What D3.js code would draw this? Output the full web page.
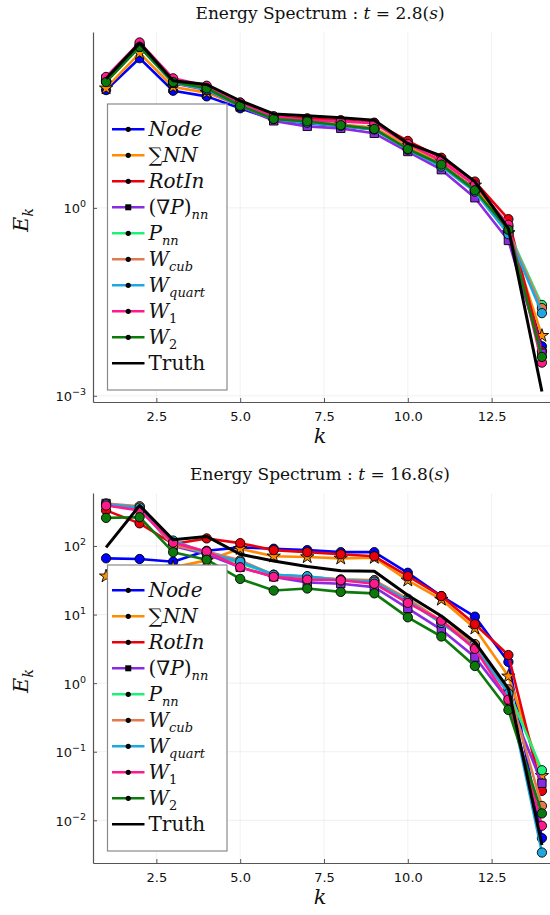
<!DOCTYPE html>
<html><head><meta charset="utf-8">
<script src="https://cdn.jsdelivr.net/npm/d3@7/dist/d3.min.js"></script>
<style>body{margin:0;background:#fff}</style>
</head><body>
<svg id="c" width="550" height="915"></svg>
<script>
// ---------- data ----------
const kValues = [1,2,3,4,5,6,7,8,9,10,11,12,13,14];
const seriesNames = ["Node","SumNN","RotIn","GradPnn","Pnn","Wcub","Wquart","W1","W2","Truth"];
const seriesColors = ["#0000ff","#ff8c00","#e8000b","#8a2be2","#1ef07a","#e07b50","#1fa8df","#ff1a8c","#0b7a0b","#000000"];
const xTicks = [2.5,5.0,7.5,10.0,12.5];
const yTicksT28 = [1e-3,1e0];
const yTicksT168 = [1e-2,1e-1,1e0,1e1,1e2];

// t = 2.8 s
const t28_Node   = [75.9,245,74.1,60.3,38.9,25.7,22.4,20.4,17.8,8.91,5.01,2.00,0.501,6.17e-3];
const t28_SumNN  = [81.3,295,85.1,69.2,42.7,26.3,23.4,21.4,19.1,9.77,5.50,2.29,0.398,9.12e-3];
const t28_RotIn  = [107,398,107,85.1,47.9,28.8,26.9,25.1,22.9,11.7,6.31,2.63,0.661,5.13e-3];
const t28_GradP  = [115,380,97.7,75.9,41.7,24.5,20.0,18.6,15.5,7.94,4.07,1.45,0.302,4.79e-3];
const t28_Pnn    = [105,372,100,79.4,42.7,26.3,23.4,20.9,18.2,8.71,4.79,1.91,0.417,2.82e-2];
const t28_Wcub   = [107,380,102,79.4,43.7,26.9,24.0,21.4,18.6,8.91,5.01,1.95,0.398,2.51e-2];
const t28_Wquart = [105,372,100,77.6,42.7,26.3,22.9,20.4,17.8,8.51,4.57,1.82,0.380,2.09e-2];
const t28_W1     = [123,437,117,89.1,47.9,28.8,25.1,24.0,22.4,10.5,5.62,2.34,0.537,3.39e-3];
const t28_W2     = [102,372,102,81.3,42.7,26.3,24.0,20.9,18.2,8.71,4.90,1.91,0.447,4.17e-3];
const t28_Truth  = [115,427,107,93.3,51.3,31.6,29.5,27.5,25.1,10.7,6.76,2.63,0.468,1.17e-3];

// t = 16.8 s
const t168_Node   = [66.1,64.6,58.9,85.1,95.5,91.2,87.1,81.3,81.3,40.7,18.6,9.33,2.04,5.50e-3];
const t168_SumNN  = [36.3,35.5,49.0,61.7,91.2,70.8,69.2,66.1,67.6,31.6,16.6,6.31,1.26,4.47e-2];
const t168_RotIn  = [331,214,107,129,110,87.1,81.3,75.9,70.8,36.3,18.6,7.24,2.57,2.69e-2];
const t168_GradP  = [417,355,100,75.9,49.0,35.5,29.5,28.2,25.1,12.3,6.03,2.40,0.562,3.47e-2];
const t168_Pnn    = [398,363,105,79.4,56.2,38.0,35.5,32.4,31.6,15.8,7.59,3.55,0.759,5.37e-2];
const t168_Wcub   = [417,380,102,83.2,61.7,38.0,35.5,32.4,31.6,17.0,8.13,3.72,0.813,1.62e-2];
const t168_Wquart = [407,363,120,79.4,58.9,38.0,36.3,31.6,30.2,15.8,7.59,3.31,0.708,3.39e-3];
const t168_W1     = [389,331,112,83.2,49.0,35.5,32.4,31.6,28.2,14.8,8.13,3.16,0.575,8.32e-3];
const t168_W2     = [257,263,81.3,63.1,33.1,22.4,24.0,21.4,20.4,9.12,4.79,1.78,0.407,1.26e-2];
const t168_Truth  = [95.5,389,123,138,75.9,60.3,50.1,43.7,42.7,19.1,9.55,3.98,0.832,4.37e-3];

// ---------- drawing ----------
const svg = d3.select("#c");
const SERIF = "'DejaVu Serif', serif";
const SANS = "'DejaVu Sans', sans-serif";

const markerType = ["circle","star","circle","square","circle","circle","circle","circle","circle",null];

const legendLabels = [
  [{t:"Node",i:true}],
  [{t:"\u2211",i:false},{t:"NN",i:true}],
  [{t:"RotIn",i:true}],
  [{t:"(\u2207",i:false},{t:"P",i:true},{t:")",i:false},{t:"nn",i:true,sub:true}],
  [{t:"P",i:true},{t:"nn",i:true,sub:true}],
  [{t:"W",i:true},{t:"cub",i:true,sub:true}],
  [{t:"W",i:true},{t:"quart",i:true,sub:true}],
  [{t:"W",i:true},{t:"1",i:false,sub:true}],
  [{t:"W",i:true},{t:"2",i:false,sub:true}],
  [{t:"Truth",i:false}]
];

function drawPanel(cfg){
  const g = svg.append("g");
  const left = 93, right = 555, top = cfg.top, bottom = cfg.top + 370;
  const x = d3.scaleLinear().domain([1 - 0.03*13, 14 + 0.03*13]).range([left, right]);
  const all = cfg.data.flat().map(v => Math.log10(v));
  const lo = d3.min(all), hi = d3.max(all), span = hi - lo;
  const y = d3.scaleLog().domain([Math.pow(10, lo - 0.03*span), Math.pow(10, hi + 0.03*span)]).range([bottom, top]);

  // grid
  g.append("g").selectAll("line").data(xTicks).join("line")
    .attr("x1", d => x(d)).attr("x2", d => x(d)).attr("y1", top).attr("y2", bottom)
    .attr("stroke", "#000").attr("stroke-opacity", 0.08).attr("stroke-width", 0.8);
  g.append("g").selectAll("line").data(cfg.yTicks).join("line")
    .attr("x1", left).attr("x2", right).attr("y1", d => y(d)).attr("y2", d => y(d))
    .attr("stroke", "#000").attr("stroke-opacity", 0.08).attr("stroke-width", 0.8);

  // axes
  const xAxis = d3.axisBottom(x).tickValues(xTicks).tickFormat(d3.format(".1f")).tickSizeInner(-4).tickSizeOuter(0).tickPadding(10);
  const gx = g.append("g").attr("transform", `translate(0,${bottom})`).call(xAxis);
  gx.select(".domain").attr("stroke", "#555").attr("stroke-width", 1.2);
  gx.selectAll(".tick line").attr("stroke", "#555");
  gx.selectAll("text").attr("font-family", SANS).attr("font-size", 13).attr("fill", "#111");

  const yAxis = d3.axisLeft(y).tickValues(cfg.yTicks).tickFormat("").tickSizeInner(-4).tickSizeOuter(0);
  const gy = g.append("g").attr("transform", `translate(${left},0)`).call(yAxis);
  gy.select(".domain").attr("stroke", "#555").attr("stroke-width", 1.2);
  gy.selectAll(".tick line").attr("stroke", "#555");
  gy.selectAll(".tick").each(function(d){
    const e = Math.round(Math.log10(d));
    const t = d3.select(this).append("text").attr("x", -7).attr("y", 5)
      .attr("text-anchor", "end").attr("font-family", SANS).attr("font-size", 13).attr("fill", "#111");
    t.append("tspan").text("10");
    t.append("tspan").attr("dy", -6).attr("font-size", 9.5).text(e < 0 ? "\u2212" + (-e) : String(e));
  });

  // series
  const line = d3.line().x((d,i) => x(kValues[i])).y(d => y(d));
  cfg.data.forEach((arr, si) => {
    const sg = g.append("g");
    sg.append("path").datum(arr).attr("d", line).attr("fill", "none")
      .attr("stroke", seriesColors[si]).attr("stroke-width", si === 9 ? 3 : 2.6)
      .attr("stroke-linejoin", "round");
    const mt = markerType[si];
    if (mt) {
      const sym = mt === "star" ? d3.symbol(d3.symbolStar, 55) : mt === "square" ? d3.symbol(d3.symbolSquare, 70) : d3.symbol(d3.symbolCircle, 68);
      sg.selectAll("path.m").data(arr).join("path").attr("class", "m")
        .attr("d", sym).attr("transform", (d,i) => `translate(${x(kValues[i])},${y(d)})`)
        .attr("fill", seriesColors[si]).attr("stroke", "#000").attr("stroke-width", 0.9);
    }
  });

  // legend
  const lx = 107.5, ly = top + 72, lw = 119.5, lh = 286;
  const lg = g.append("g");
  lg.append("rect").attr("x", lx).attr("y", ly).attr("width", lw).attr("height", lh)
    .attr("fill", "#fff").attr("stroke", "#8a8a8a").attr("stroke-width", 1.2);
  seriesNames.forEach((nm, si) => {
    const cy = ly + 25.3 + si * 26;
    lg.append("line").attr("x1", lx + 4.5).attr("x2", lx + 37).attr("y1", cy).attr("y2", cy)
      .attr("stroke", seriesColors[si]).attr("stroke-width", si === 9 ? 2.6 : 2.4);
    const mt = markerType[si];
    if (mt === "square") {
      lg.append("rect").attr("x", lx + 20.75 - 3).attr("y", cy - 3).attr("width", 6).attr("height", 6).attr("fill", "#000");
    } else if (mt) {
      lg.append("circle").attr("cx", lx + 20.75).attr("cy", cy).attr("r", 2.6).attr("fill", "#000");
    }
    const t = lg.append("text").attr("x", lx + 41).attr("y", cy + 6.5)
      .attr("font-family", SERIF).attr("font-size", 20).attr("fill", "#111");
    legendLabels[si].forEach(p => {
      const ts = t.append("tspan").text(p.t).attr("font-style", p.i ? "italic" : "normal");
      if (p.sub) { ts.attr("dy", 5).attr("font-size", 13); }
    });
  });

  // title
  const tt = g.append("text").attr("x", (left + right) / 2 - 4).attr("y", top - 13)
    .attr("text-anchor", "middle").attr("font-family", SERIF).attr("font-size", 17).attr("fill", "#111");
  tt.append("tspan").text("Energy Spectrum : ");
  tt.append("tspan").attr("font-style", "italic").text("t");
  tt.append("tspan").text(" = " + cfg.tval + "(");
  tt.append("tspan").attr("font-style", "italic").text("s");
  tt.append("tspan").text(")");

  // axis labels
  g.append("text").attr("x", (left + right) / 2 - 4).attr("y", bottom + 41)
    .attr("text-anchor", "middle").attr("font-family", SERIF).attr("font-style", "italic")
    .attr("font-size", 21).attr("fill", "#111").text("k");
  const yl = g.append("text").attr("transform", `translate(28,${(top + bottom) / 2 + 3}) rotate(-90)`)
    .attr("text-anchor", "middle").attr("font-family", SERIF).attr("font-style", "italic")
    .attr("font-size", 21).attr("fill", "#111");
  yl.append("tspan").text("E");
  yl.append("tspan").attr("font-size", 14).attr("dy", 5).text("k");
}

drawPanel({top: 32, tval: "2.8", yTicks: yTicksT28,
  data: [t28_Node,t28_SumNN,t28_RotIn,t28_GradP,t28_Pnn,t28_Wcub,t28_Wquart,t28_W1,t28_W2,t28_Truth]});
drawPanel({top: 493, tval: "16.8", yTicks: yTicksT168,
  data: [t168_Node,t168_SumNN,t168_RotIn,t168_GradP,t168_Pnn,t168_Wcub,t168_Wquart,t168_W1,t168_W2,t168_Truth]});
</script>
</body></html>
